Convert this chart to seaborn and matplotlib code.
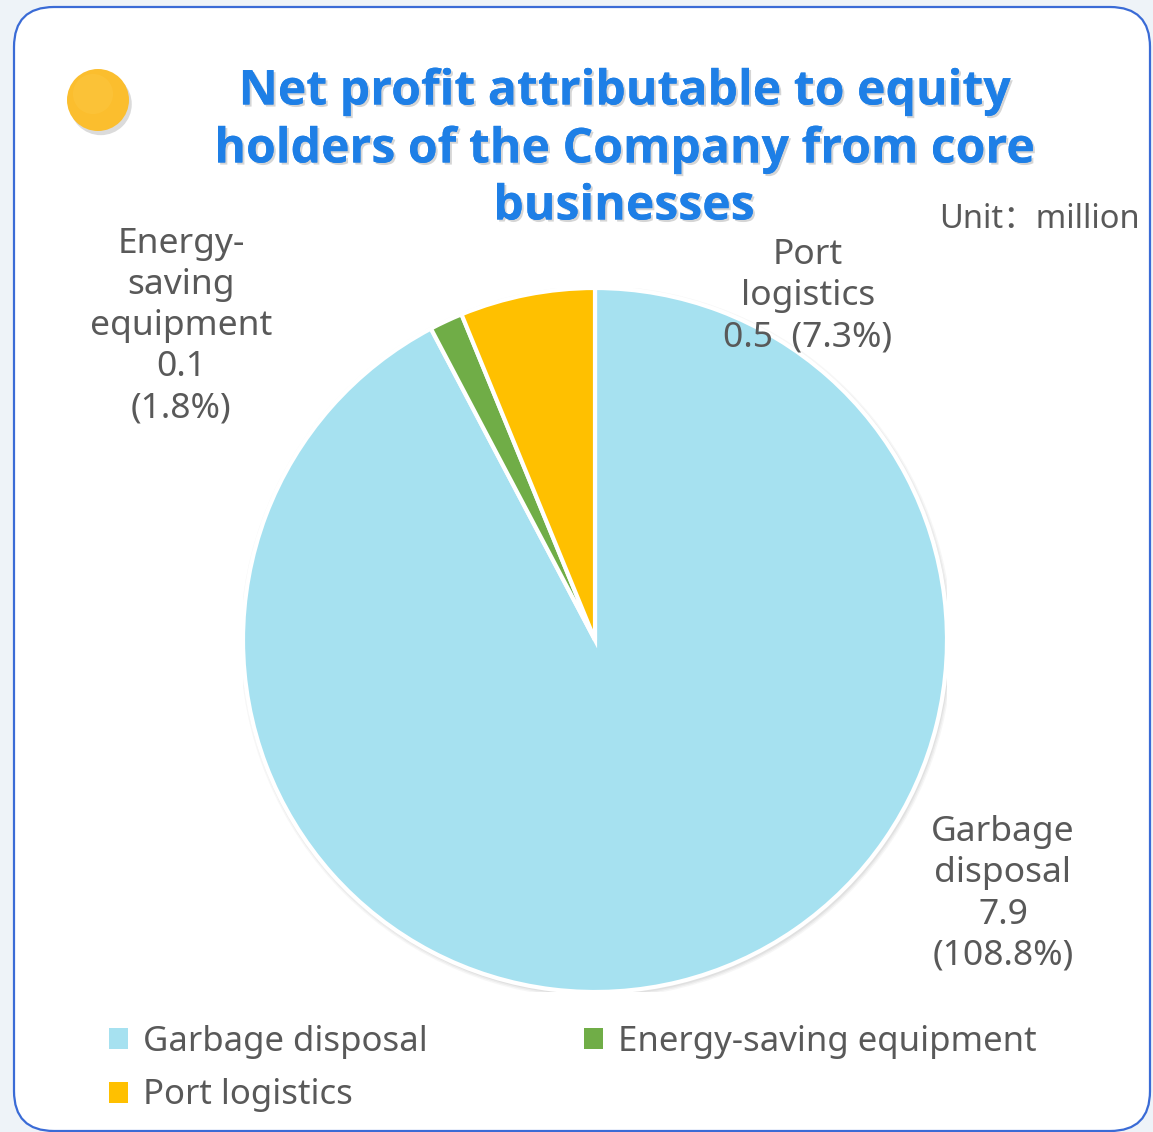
import matplotlib
matplotlib.use("Agg")
import matplotlib.pyplot as plt
import matplotlib.patheffects as pe
from matplotlib.patches import FancyBboxPatch, Circle, Patch
import seaborn as sns

# Segment data
segments = ["Garbage disposal", "Energy-saving equipment", "Port logistics"]
profit_values = [7.9, 0.1, 0.5]          # million
profit_shares = [108.8, 1.8, 7.3]        # percent of total
label_lines = [["Garbage", "disposal"], ["Energy-", "saving", "equipment"], ["Port", "logistics"]]
title_lines = ["Net profit attributable to equity",
               "holders of the Company from core",
               "businesses"]
unit_text = "Unit：million"

sns.set_theme(style="white")
plt.rcParams["font.family"] = ["Noto Sans", "Noto Sans CJK SC", "DejaVu Sans"]

colors = sns.color_palette(["#A6E1F0", "#70AD47", "#FFC000"])
text_gray = "#595959"

W, H = 1153, 1132
fig = plt.figure(figsize=(W / 100, H / 100), dpi=100)
fig.patch.set_facecolor("#EEF3F8")


def px(x, y):
    """Pixel position (from top-left) to figure fraction."""
    return x / W, 1 - y / H


# Background layer in pixel coordinates
bg = fig.add_axes([0, 0, 1, 1])
bg.set_xlim(0, W)
bg.set_ylim(H, 0)
bg.axis("off")

card = FancyBboxPatch((14, 7), 1136, 1124, boxstyle="round,pad=0,rounding_size=40",
                      facecolor="white", edgecolor="#3A6BD6", linewidth=1.6,
                      path_effects=[pe.withSimplePatchShadow(offset=(0, 0), shadow_rgbFace="#C9D6E6", alpha=0.6)])
bg.add_patch(card)

dot = Circle((98, 100), 31, facecolor="#FBBE2E", edgecolor="none",
             path_effects=[pe.withSimplePatchShadow(offset=(2, -3), shadow_rgbFace="#999999", alpha=0.35)])
bg.add_patch(dot)
bg.add_patch(Circle((93, 94), 20, facecolor="#FCCB4A", edgecolor="none", alpha=0.35))

title_fx = [pe.withSimplePatchShadow(offset=(1.5, -1.5), shadow_rgbFace="#888888", alpha=0.35), pe.Normal()]
for line, y in zip(title_lines, [92, 150, 207]):
    bg.text(624, y, line, ha="center", va="center", fontsize=34.7, fontweight="bold",
            family=["Open Sans", "DejaVu Sans"], color="#1E7FE6", path_effects=title_fx)
bg.text(1140, 219, unit_text, ha="right", va="center", fontsize=23.5, color=text_gray)

# Pie chart
cx, cy, r = 595, 640, 352
ax = fig.add_axes([(cx - r) / W, (H - cy - r) / H, 2 * r / W, 2 * r / H])
ax.axis("off")

for k, a in enumerate([0.18, 0.14, 0.10]):
    ax.add_patch(Circle((0.004, -0.006), 1.0 + 0.004 * (k + 1), facecolor="#B0B0B0",
                        edgecolor="none", alpha=a))
wedges, _ = ax.pie(profit_shares, colors=colors, startangle=90, counterclock=False,
                   radius=1.0, wedgeprops=dict(edgecolor="white", linewidth=3))
for w in wedges:
    w.set_zorder(3)
ax.set_xlim(-1, 1)
ax.set_ylim(-1, 1)
ax.set_aspect("equal")

label_texts = []
for name_lines, val, pct in zip(label_lines, profit_values, profit_shares):
    label_texts.append(name_lines + [f"{val:g}", f"({pct:g}%)"])

label_pos = [(1003, 894), (181, 326), (808, 296)]
garb = "\n".join(label_texts[0])
energy = "\n".join(label_texts[1])
port = "\n".join(label_texts[2][:2] + [label_texts[2][2] + "  " + label_texts[2][3]])
for txt, (x, y) in zip([garb, energy, port], label_pos):
    fig.text(*px(x, y), txt, ha="center", va="center", fontsize=25.5, color=text_gray,
             linespacing=1.275, zorder=5)

# Legend filled row by row: Garbage, Energy-saving / Port logistics
order = [0, 2, 1]
handles = [Patch(facecolor=colors[i], edgecolor="none") for i in order]
labels = [segments[i] for i in order]
leg = fig.legend(handles, labels, loc="upper left", bbox_to_anchor=px(109, 1025),
                 ncol=2, frameon=False, fontsize=25, handlelength=0.55, handleheight=0.55,
                 handletextpad=0.43, columnspacing=4.5, labelspacing=0.56, labelcolor=text_gray,
                 borderpad=0, borderaxespad=0)

fig.savefig("out.png", dpi=100, facecolor=fig.get_facecolor())
